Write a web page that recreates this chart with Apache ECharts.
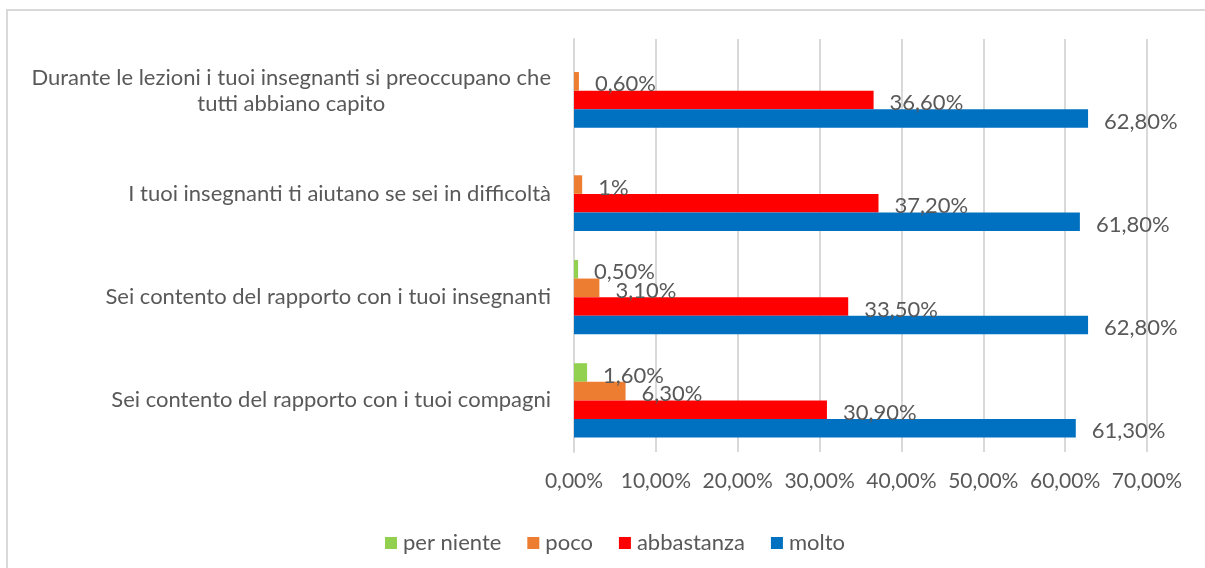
<!DOCTYPE html>
<html>
<head>
<meta charset="utf-8">
<script src="https://cdn.jsdelivr.net/npm/echarts@6/dist/echarts.min.js"></script>
<style>
html,body{margin:0;padding:0;background:#fff;}
#chart{width:1205px;height:568px;}
</style>
</head>
<body>
<div id="chart"></div>
<script>
const categories = [
  "Sei contento del rapporto con i tuoi compagni",
  "Sei contento del rapporto con i tuoi insegnanti",
  "I tuoi insegnanti ti aiutano se sei in difficoltà",
  "Durante le lezioni i tuoi insegnanti si preoccupano che\ntutti abbiano capito"
];
const seriesNames = ["per niente", "poco", "abbastanza", "molto"];
const perNiente = [1.6, 0.5, null, null];
const poco = [6.3, 3.1, 1, 0.6];
const abbastanza = [30.9, 33.5, 37.2, 36.6];
const molto = [61.3, 62.8, 61.8, 62.8];
const xTicks = [0, 10, 20, 30, 40, 50, 60, 70];

const colors = ["#92D050", "#ED7D31", "#FF0000", "#0070C0"];
const FONT = "Lato";
const TXT = "#595959";

function fmtLabel(v) {
  if (v == null) return "";
  if (Number.isInteger(v)) return v + "%";
  return v.toFixed(2).replace(".", ",") + "%";
}
function fmtAxis(v) {
  return v.toFixed(2).replace(".", ",") + "%";
}

const dataSets = [perNiente, poco, abbastanza, molto];
const chart = echarts.init(document.getElementById("chart"), null, {renderer: "canvas"});
chart.setOption({
  animation: false,
  backgroundColor: "#fff",
  textStyle: {fontFamily: FONT},
  graphic: [{
    type: "rect",
    shape: {x: 7, y: 10, width: 1230, height: 600},
    style: {fill: "none", stroke: "#d9d9d9", lineWidth: 2},
    silent: true, z: -10
  }],
  grid: {left: 574, right: 58, top: 39, bottom: 116, containLabel: false},
  legend: {
    left: 380, top: 527,
    itemWidth: 12, itemHeight: 12, itemGap: 26,
    icon: "rect",
    data: seriesNames,
    textStyle: {color: TXT, fontSize: 22, fontFamily: FONT, padding: [0, 0, 0, 1]}
  },
  xAxis: {
    type: "value",
    min: xTicks[0], max: xTicks[xTicks.length - 1], interval: xTicks[1] - xTicks[0],
    axisLine: {show: false},
    axisTick: {show: false},
    splitLine: {show: true, lineStyle: {color: "#d9d9d9", width: 2}},
    axisLabel: {
      color: TXT, fontSize: 21, fontFamily: FONT, margin: 19,
      formatter: fmtAxis
    }
  },
  yAxis: {
    type: "category",
    data: categories,
    axisLine: {show: true, lineStyle: {color: "#d9d9d9", width: 2}},
    axisTick: {show: false},
    axisLabel: {
      color: TXT, fontSize: 22, fontFamily: FONT, margin: 23,
      lineHeight: 26,
      formatter: function (v) {
        return v.split("\n").map(s => "{c|" + s + "}").join("\n");
      },
      rich: {c: {align: "center", color: TXT, fontSize: 22, fontFamily: FONT, lineHeight: 26}}
    }
  },
  series: seriesNames.map((name, i) => ({
    name: name,
    type: "bar",
    data: dataSets[i],
    barGap: "0%",
    barCategoryGap: "28%",
    itemStyle: {color: colors[i]},
    label: {
      show: true,
      position: "right",
      distance: 16,
      offset: [0, 3],
      color: TXT,
      fontSize: 22,
      fontFamily: FONT,
      formatter: p => fmtLabel(p.value)
    }
  }))
});
</script>
</body>
</html>
